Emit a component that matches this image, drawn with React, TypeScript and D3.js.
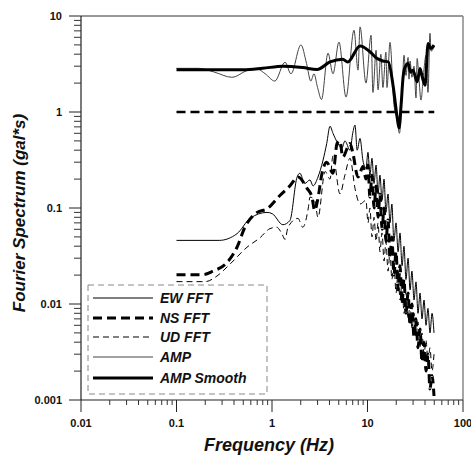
import React from "react";
import * as d3 from "d3";

type P = [number, number];

const xTickValues = [0.01, 0.1, 1, 10, 100];
const xTickLabels = ["0.01", "0.1", "1", "10", "100"];
const yTickValues = [0.001, 0.01, 0.1, 1, 10];
const yTickLabels = ["0.001", "0.01", "0.1", "1", "10"];

const legendLabels = ["EW FFT", "NS FFT", "UD FFT", "AMP", "AMP Smooth"];

const ampThin: P[] = [
  [0.1, 2.85], [0.17, 2.85], [0.25, 2.6], [0.38, 2.3], [0.56, 2.72], [0.7, 2.8],
  [0.85, 2.5], [1.07, 2.1], [1.37, 3.3], [1.58, 2.5], [2.01, 5.0], [2.3, 3.2],
  [2.55, 2.1], [2.75, 2.5], [3.0, 1.8], [3.3, 1.35], [3.86, 4.1], [4.35, 2.5],
  [5.03, 5.35], [5.96, 1.43], [7.22, 7.1], [7.96, 2.73], [8.35, 7.7], [9.64, 2.0],
  [10.9, 6.3], [11.4, 1.6], [12.3, 4.4], [12.9, 1.7], [13.8, 4.0], [14.5, 1.8],
  [15.6, 4.2], [16.0, 1.8], [17.2, 5.3], [18.9, 1.2], [20.4, 0.85], [21.6, 0.6],
  [23.0, 1.5], [24.1, 3.9], [25.3, 2.4], [26.6, 3.7], [27.2, 2.2], [27.9, 3.4],
  [29.2, 2.3], [30.7, 3.0], [32.2, 1.4], [33.1, 3.6], [34.5, 2.3], [36.3, 1.33],
  [38.5, 2.4], [41.0, 3.9], [43.0, 1.6], [45.1, 6.6], [46.3, 4.3], [49.7, 4.75],
];

const ampSmooth: P[] = [
  [0.1, 2.75], [0.5, 2.75], [0.8, 2.85], [1.3, 3.0], [2.1, 2.9], [2.96, 2.77],
  [4.05, 3.32], [5.5, 3.54], [6.2, 3.32], [8.35, 4.86], [10.6, 4.24], [12.5, 3.62],
  [14.5, 3.4], [16.5, 3.33], [18.6, 1.83], [20.4, 0.89], [21.4, 0.68], [22.5, 1.2],
  [23.6, 2.32], [25.0, 3.0], [26.6, 3.2], [28.2, 2.6], [29.9, 2.73], [33.1, 2.06],
  [35.5, 2.84], [37.5, 2.3], [40.1, 1.9], [43.1, 5.18], [46.0, 4.6], [49.7, 4.98],
];

const unityLine: P[] = [[0.1, 1], [50, 1]];

const ewFFT: P[] = [
  [0.1, 0.046], [0.28, 0.046], [0.43, 0.054], [0.59, 0.078], [0.887, 0.09], [1.01, 0.087],
  [1.3, 0.067], [1.54, 0.074], [1.83, 0.21], [1.96, 0.23], [2.2, 0.18], [2.5, 0.196],
  [2.69, 0.17], [3.03, 0.21], [3.41, 0.31], [3.74, 0.47], [4.05, 0.71], [4.35, 0.6],
  [4.9, 0.47], [5.4, 0.42], [5.8, 0.5], [6.56, 0.4], [7.0, 0.6], [7.4, 0.73],
  [7.8, 0.4], [8.35, 0.53], [8.97, 0.31],
  [9.64, 0.26], [10.12, 0.38], [10.6, 0.22], [11.15, 0.33], [11.7, 0.18], [12.3, 0.28],
  [12.9, 0.14], [13.5, 0.22], [14.2, 0.12], [14.9, 0.2], [15.6, 0.09], [16.4, 0.14],
  [17.2, 0.07], [18.0, 0.11], [18.9, 0.045], [19.9, 0.07], [20.9, 0.035], [21.9, 0.055],
  [23.0, 0.025], [24.1, 0.04], [25.3, 0.018], [26.6, 0.03], [27.9, 0.014], [29.2, 0.022],
  [30.7, 0.011], [32.2, 0.017], [33.8, 0.008], [35.5, 0.013], [37.2, 0.007], [39.1, 0.011],
  [41.0, 0.006], [43.0, 0.009], [45.1, 0.005], [47.4, 0.008], [49.7, 0.005],
];

const nsFFT: P[] = [
  [0.1, 0.0202], [0.19, 0.0202], [0.241, 0.022], [0.338, 0.027], [0.43, 0.039], [0.52, 0.063],
  [0.7, 0.09], [0.887, 0.098], [1.21, 0.135], [1.54, 0.17], [1.87, 0.21], [2.33, 0.16],
  [2.62, 0.13], [2.8, 0.094], [3.0, 0.12], [3.34, 0.23], [3.74, 0.3], [4.35, 0.23],
  [4.8, 0.47], [5.15, 0.5], [5.5, 0.34], [6.56, 0.47], [7.0, 0.38], [7.96, 0.21],
  [8.97, 0.27],
  [9.64, 0.2], [10.12, 0.28], [10.6, 0.13], [11.15, 0.22], [11.7, 0.1], [12.3, 0.17],
  [12.9, 0.08], [13.5, 0.14], [14.2, 0.06], [14.9, 0.1], [15.6, 0.045], [16.4, 0.075],
  [17.2, 0.03], [18.0, 0.05], [18.9, 0.02], [19.9, 0.035], [20.9, 0.014], [21.9, 0.025],
  [23.0, 0.01], [24.1, 0.018], [25.3, 0.008], [26.6, 0.013], [27.9, 0.006], [29.2, 0.01],
  [30.7, 0.0045], [32.2, 0.007], [33.8, 0.0035], [35.5, 0.0055], [37.2, 0.0025], [39.1, 0.004],
  [41.0, 0.002], [43.0, 0.003], [45.1, 0.0013], [47.4, 0.0018], [49.7, 0.0011],
];

const udFFT: P[] = [
  [0.1, 0.0171], [0.2, 0.0171], [0.266, 0.0196], [0.363, 0.026], [0.547, 0.039], [0.748, 0.049],
  [0.953, 0.061], [1.12, 0.063], [1.27, 0.054], [1.37, 0.047], [1.47, 0.063], [1.87, 0.078],
  [2.1, 0.063], [2.4, 0.1], [2.5, 0.13], [2.8, 0.12], [3.03, 0.08], [3.6, 0.24],
  [4.05, 0.2], [4.35, 0.35], [5.15, 0.14], [5.8, 0.22], [6.56, 0.33], [7.4, 0.16],
  [8.35, 0.11],
  [9.64, 0.12], [10.12, 0.07], [10.6, 0.1], [11.15, 0.05], [11.7, 0.08], [12.3, 0.045],
  [12.9, 0.07], [13.5, 0.035], [14.2, 0.055], [14.9, 0.028], [15.6, 0.045], [16.4, 0.022],
  [17.2, 0.035], [18.0, 0.018], [18.9, 0.028], [19.9, 0.013], [20.9, 0.022], [21.9, 0.011],
  [23.0, 0.017], [24.1, 0.008], [25.3, 0.013], [26.6, 0.007], [27.9, 0.01], [29.2, 0.0055],
  [30.7, 0.008], [32.2, 0.0045], [33.8, 0.0065], [35.5, 0.0035], [37.2, 0.005], [39.1, 0.003],
  [41.0, 0.0042], [43.0, 0.0025], [45.1, 0.0035], [47.4, 0.002], [49.7, 0.003],
];

const W = 471;
const H = 459;
const M = { left: 81, top: 16, right: 463, bottom: 400 };

const styles = [
  { stroke: "#000", width: 1, dash: "" },
  { stroke: "#000", width: 3, dash: "9,5" },
  { stroke: "#000", width: 1, dash: "6,4" },
  { stroke: "#444", width: 1, dash: "" },
  { stroke: "#000", width: 3, dash: "" },
];

export default function App() {
  const x = d3.scaleLog().domain([0.01, 100]).range([M.left, M.right]);
  const y = d3.scaleLog().domain([0.001, 10]).range([M.bottom, M.top]);
  const line = d3
    .line<P>()
    .x((d) => x(d[0]))
    .y((d) => y(d[1]))
    .curve(d3.curveMonotoneX);
  const straight = d3
    .line<P>()
    .x((d) => x(d[0]))
    .y((d) => y(d[1]));

  const minorX: number[] = [];
  for (let i = 0; i < 4; i++) {
    for (let k = 2; k <= 9; k++) minorX.push(xTickValues[i] * k);
  }
  const minorY: number[] = [];
  for (let i = 0; i < 4; i++) {
    for (let k = 2; k <= 9; k++) minorY.push(yTickValues[i] * k);
  }

  const series: P[][] = [ewFFT, nsFFT, udFFT, ampThin, ampSmooth];
  const font = "'Liberation Sans', Arial, sans-serif";

  const legendRows = [298, 318, 337, 357, 378];

  return (
    <svg
      width={W}
      height={H}
      style={{ position: "absolute", left: 0, top: 0, background: "#fff" }}
      fontFamily={font}
    >
      <rect x={0} y={0} width={W} height={H} fill="#fff" />
      {/* frame */}
      <line x1={M.left} x2={M.right} y1={M.top} y2={M.top} stroke="#333" strokeWidth={1} />
      <line x1={M.right} x2={M.right} y1={M.top} y2={M.bottom} stroke="#888" strokeWidth={1.5} />
      <line x1={M.left} x2={M.left} y1={M.top} y2={M.bottom} stroke="#222" strokeWidth={1.2} />
      <line x1={M.left} x2={M.right} y1={M.bottom} y2={M.bottom} stroke="#222" strokeWidth={1.2} />

      {/* y ticks */}
      {yTickValues.map((v, i) => (
        <g key={"yt" + i}>
          <line x1={M.left - 12} x2={M.left} y1={y(v)} y2={y(v)} stroke="#222" />
          <text x={62} y={y(v) + 4} textAnchor="end" fontSize={11} fontWeight="bold" fill="#111">
            {yTickLabels[i]}
          </text>
        </g>
      ))}
      {minorY.map((v, i) => (
        <line key={"ym" + i} x1={M.left - 7} x2={M.left} y1={y(v)} y2={y(v)} stroke="#333" />
      ))}
      {/* x ticks */}
      {xTickValues.map((v, i) => (
        <g key={"xt" + i}>
          <line x1={x(v)} x2={x(v)} y1={M.bottom} y2={M.bottom + 12} stroke="#222" />
          <text x={x(v)} y={427} textAnchor="middle" fontSize={11} fontWeight="bold" fill="#111">
            {xTickLabels[i]}
          </text>
        </g>
      ))}
      {minorX.map((v, i) => (
        <line key={"xm" + i} x1={x(v)} x2={x(v)} y1={M.bottom} y2={M.bottom + 5} stroke="#333" />
      ))}

      {/* axis titles */}
      <text
        x={269}
        y={451}
        textAnchor="middle"
        fontSize={18}
        fontWeight="bold"
        fontStyle="italic"
        fill="#111"
      >
        Frequency (Hz)
      </text>
      <text
        transform={`translate(25,213) rotate(-90)`}
        textAnchor="middle"
        fontSize={17}
        fontWeight="bold"
        fontStyle="italic"
        fill="#111"
      >
        Fourier Spectrum (gal*s)
      </text>

      {/* reference line at 1 */}
      <path d={straight(unityLine) || ""} fill="none" stroke="#000" strokeWidth={2.5} strokeDasharray="9,5" />

      {/* series */}
      {series.map((s, i) => (
        <path
          key={"s" + i}
          d={line(s) || ""}
          fill="none"
          stroke={styles[i].stroke}
          strokeWidth={styles[i].width}
          strokeDasharray={styles[i].dash || undefined}
          strokeLinejoin="round"
        />
      ))}

      {/* legend */}
      <rect x={88} y={285} width={179} height={109} fill="#fff" stroke="#888" strokeWidth={1} strokeDasharray="6,4" />
      {legendLabels.map((lab, i) => (
        <g key={"lg" + i}>
          <line
            x1={93}
            x2={153}
            y1={legendRows[i]}
            y2={legendRows[i]}
            stroke={styles[i].stroke}
            strokeWidth={styles[i].width}
            strokeDasharray={styles[i].dash || undefined}
          />
          <text
            x={160}
            y={legendRows[i] + 5}
            fontSize={14}
            fontWeight="bold"
            fontStyle="italic"
            fill="#111"
          >
            {lab}
          </text>
        </g>
      ))}
    </svg>
  );
}
